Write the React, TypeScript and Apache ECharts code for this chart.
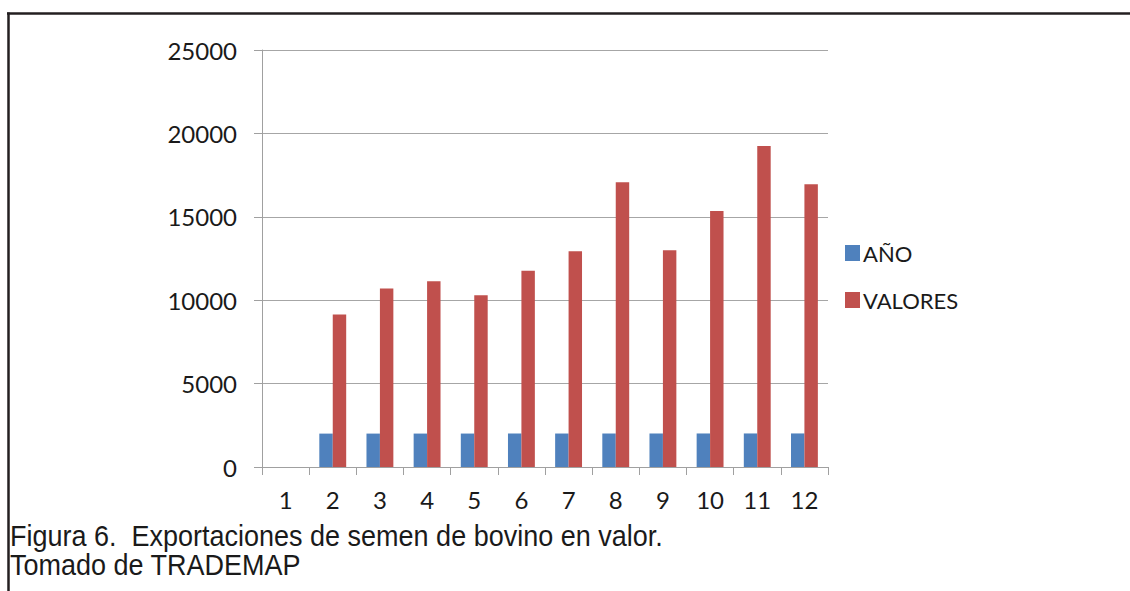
import React, { useEffect, useRef } from "react";
import * as echarts from "echarts";

const categories = ["1", "2", "3", "4", "5", "6", "7", "8", "9", "10", "11", "12"];
const anoValues = [null, 2002, 2003, 2004, 2005, 2006, 2007, 2008, 2009, 2010, 2011, 2012];
const valoresValues = [null, 9140, 10700, 11130, 10290, 11770, 12930, 17070, 12990, 15350, 19240, 16950];
const yTicks = { min: 0, max: 25000, interval: 5000 };
const captionLines = ["Figura 6.  Exportaciones de semen de bovino en valor.", "Tomado de TRADEMAP"];

export default function App() {
  const ref = useRef<HTMLDivElement>(null);
  useEffect(() => {
    if (!ref.current) return;
    const chart = echarts.init(ref.current, undefined, { renderer: "svg" });
    const labelFont = "Lato, 'Open Sans', sans-serif";
    chart.setOption({
      animation: false,
      backgroundColor: "#ffffff",
      grid: { left: 262, top: 50, right: 302, bottom: 124, containLabel: false },
      legend: {
        orient: "vertical",
        left: 840,
        top: 237,
        itemWidth: 15,
        itemHeight: 16,
        itemGap: 25,
        icon: "rect",
        textStyle: { fontFamily: labelFont, fontSize: 22, color: "#1a1a1a", padding: [0, 0, 0, -2] },
        data: ["AÑO", "VALORES"],
      },
      xAxis: {
        type: "category",
        data: categories,
        axisLine: { show: true, lineStyle: { color: "#a0a0a0", width: 1 } },
        axisTick: { show: true, length: 8, lineStyle: { color: "#a0a0a0" } },
        axisLabel: { fontFamily: labelFont, fontSize: 24, color: "#1a1a1a", margin: 20 },
        splitLine: { show: false },
      },
      yAxis: {
        type: "value",
        min: yTicks.min,
        max: yTicks.max,
        interval: yTicks.interval,
        axisLine: { show: true, lineStyle: { color: "#a0a0a0", width: 1 } },
        axisTick: { show: true, length: 8, inside: false, lineStyle: { color: "#a0a0a0" } },
        axisLabel: {
          fontFamily: labelFont,
          fontSize: 24,
          color: "#1a1a1a",
          margin: 25,
          formatter: (v: number) => String(v),
        },
        splitLine: { show: true, lineStyle: { color: "#a6a6a6", width: 1 } },
      },
      series: [
        {
          name: "AÑO",
          type: "bar",
          data: anoValues,
          itemStyle: { color: "#4F81BD" },
          barGap: "0%",
          barCategoryGap: "43%",
        },
        {
          name: "VALORES",
          type: "bar",
          data: valoresValues,
          itemStyle: { color: "#C0504D" },
          barGap: "0%",
          barCategoryGap: "43%",
        },
      ],
      graphic: [
        {
          type: "line",
          shape: { x1: 7, y1: 13.5, x2: 1130, y2: 13.5 },
          style: { stroke: "#231f20", lineWidth: 2.5 },
        },
        {
          type: "line",
          shape: { x1: 8.5, y1: 12.5, x2: 8.5, y2: 591 },
          style: { stroke: "#231f20", lineWidth: 2.5 },
        },
        {
          type: "text",
          x: 10,
          y: 536,
          scaleY: 1.1,
          style: {
            text: captionLines[0],
            font: "27px 'Liberation Sans', Arial, sans-serif",
            fill: "#1a1a1a",
            textVerticalAlign: "middle",
          },
        },
        {
          type: "text",
          x: 10,
          y: 565,
          scaleY: 1.1,
          style: {
            text: captionLines[1],
            font: "27px 'Liberation Sans', Arial, sans-serif",
            fill: "#1a1a1a",
            textVerticalAlign: "middle",
          },
        },
      ],
    });
    return () => chart.dispose();
  }, []);
  return (
    <div
      ref={ref}
      style={{ position: "fixed", left: 0, top: 0, width: 1130, height: 591, background: "#fff" }}
    />
  );
}
